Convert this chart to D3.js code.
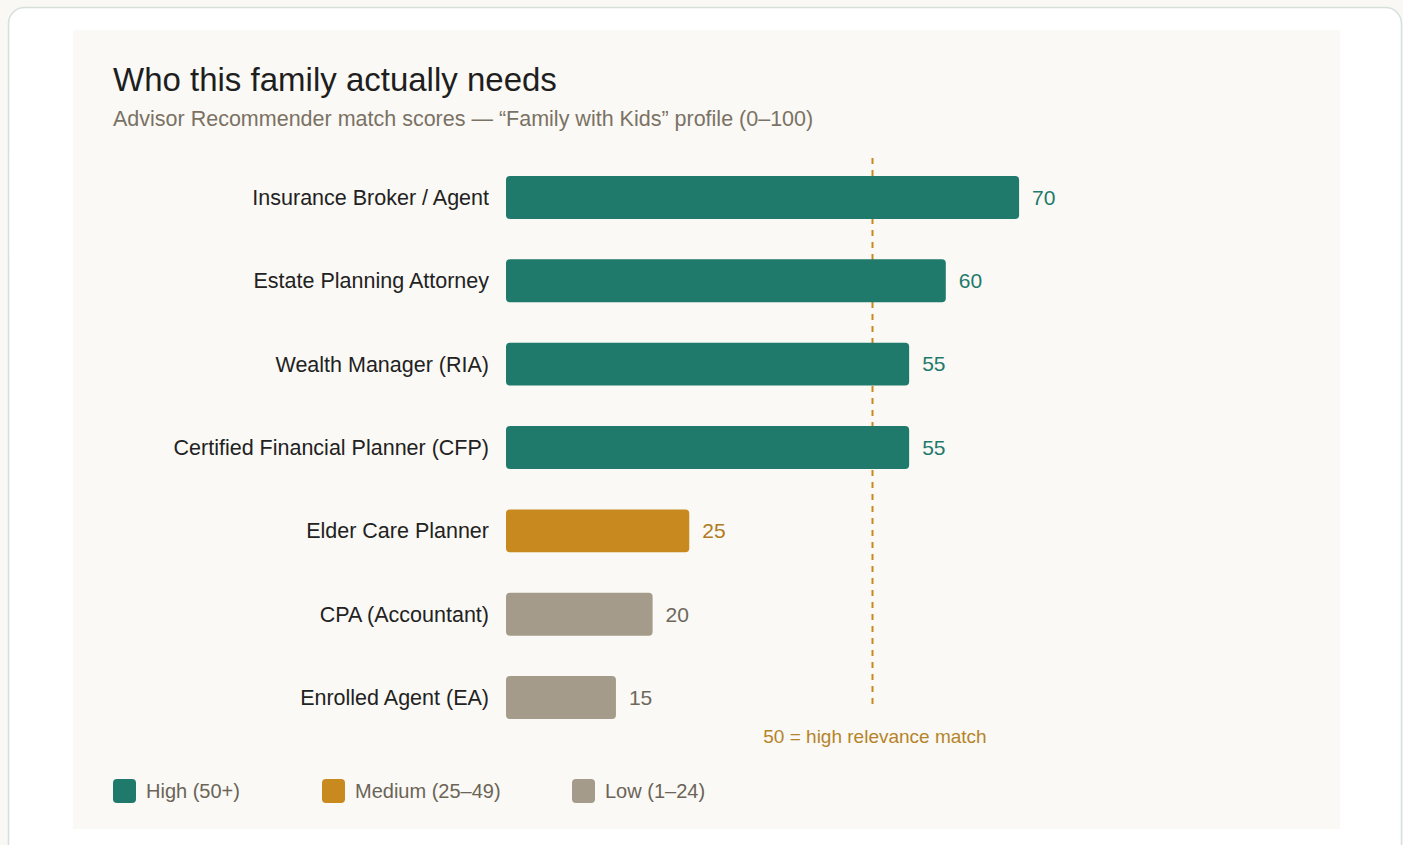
<!DOCTYPE html>
<html>
<head>
<meta charset="utf-8">
<script src="https://cdn.jsdelivr.net/npm/d3@7"></script>
<style>
  body { margin: 0; background: #f9f8f4; font-family: "Liberation Sans", Arial, sans-serif; }
</style>
</head>
<body>
<div class="advisorchart"></div>
<script>
// data
const advisors = ["Insurance Broker / Agent", "Estate Planning Attorney", "Wealth Manager (RIA)",
  "Certified Financial Planner (CFP)", "Elder Care Planner", "CPA (Accountant)", "Enrolled Agent (EA)"];
const scores = [70, 60, 55, 55, 25, 20, 15];
const tiers = ["High (50+)", "Medium (25–49)", "Low (1–24)"];
const threshold = 50;

const Width = 1403, Height = 845;

const tierColor = ["#1f7a6c", "#c8891f", "#a59b8a"];
const tierText = ["#1f7a6c", "#b07b1e", "#6e685c"];
const tierOf = v => v >= 50 ? 0 : (v >= 25 ? 1 : 2);

const svg = d3.select(".advisorchart").append("svg")
    .attr("width", Width)
    .attr("height", Height)
    .style("display", "block");

// card + panel
svg.append("rect")
    .attr("x", 8.5).attr("y", 7.5)
    .attr("width", 1393).attr("height", 880)
    .attr("rx", 16)
    .style("fill", "#fff")
    .style("stroke", "#d5dfdc")
    .style("stroke-width", 1.5);

svg.append("rect")
    .attr("x", 73).attr("y", 30)
    .attr("width", 1267).attr("height", 799)
    .style("fill", "#faf9f5");

// title
svg.append("text")
    .attr("x", 113).attr("y", 91)
    .style("font-size", "33px")
    .style("fill", "#1e1e1e")
    .text("Who this family actually needs");

svg.append("text")
    .attr("x", 113).attr("y", 126)
    .style("font-size", "21.5px")
    .style("fill", "#7a7264")
    .text("Advisor Recommender match scores — “Family with Kids” profile (0–100)");

// scales
const x = d3.scaleLinear().domain([0, 100]).range([506, 1239]);
const y = d3.scaleBand().domain(advisors).range([155.75, 739.25])
    .paddingInner(0.485).paddingOuter(0.2425);

// threshold line
svg.append("line")
    .attr("x1", x(threshold)).attr("x2", x(threshold))
    .attr("y1", 158).attr("y2", 710)
    .style("stroke", "#c8891f")
    .style("stroke-width", 2)
    .style("stroke-dasharray", "6,6");

svg.append("text")
    .attr("x", x(threshold) + 2.5).attr("y", 743)
    .attr("text-anchor", "middle")
    .style("font-size", "19px")
    .style("fill", "#b5842a")
    .text(threshold + " = high relevance match");

// bars
svg.selectAll(".bar")
    .data(scores)
  .enter().append("rect")
    .attr("class", "bar")
    .attr("x", x(0))
    .attr("y", (d, i) => y(advisors[i]))
    .attr("width", d => x(d) - x(0))
    .attr("height", y.bandwidth())
    .attr("rx", 4)
    .style("fill", d => tierColor[tierOf(d)]);

// value labels
svg.selectAll(".val")
    .data(scores)
  .enter().append("text")
    .attr("class", "val")
    .attr("x", d => x(d) + 13)
    .attr("y", (d, i) => y(advisors[i]) + y.bandwidth() / 2)
    .attr("dy", "0.35em")
    .style("font-size", "21px")
    .style("fill", d => tierText[tierOf(d)])
    .text(d => d);

// category labels
svg.selectAll(".cat")
    .data(advisors)
  .enter().append("text")
    .attr("class", "cat")
    .attr("x", 489)
    .attr("y", d => y(d) + y.bandwidth() / 2)
    .attr("dy", "0.35em")
    .attr("text-anchor", "end")
    .style("font-size", "21.5px")
    .style("fill", "#222")
    .text(d => d);

// legend
const legendX = [113, 322, 572];
const legend = svg.selectAll(".legend")
    .data(tiers)
  .enter().append("g")
    .attr("class", "legend")
    .attr("transform", (d, i) => "translate(" + legendX[i] + ",779)");

legend.append("rect")
    .attr("width", 23).attr("height", 24)
    .attr("rx", 4)
    .style("fill", (d, i) => tierColor[i]);

legend.append("text")
    .attr("x", 33).attr("y", 12)
    .attr("dy", "0.35em")
    .style("font-size", "20px")
    .style("fill", "#6b6457")
    .text(d => d);
</script>
</body>
</html>
